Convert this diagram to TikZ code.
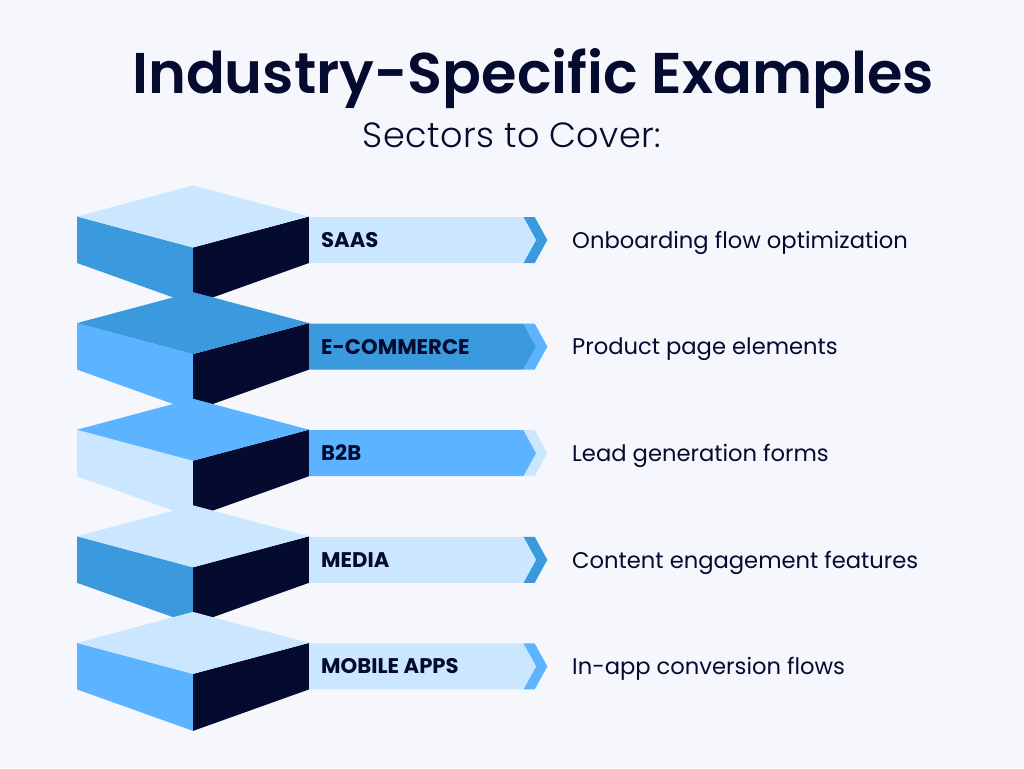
\documentclass[tikz,border=0pt]{standalone}
\usepackage{fontspec}
\setmainfont{Poppins}
\newfontfamily\titlefont[UprightFont={* SemiBold},BoldFont={* SemiBold}]{Poppins}
\newfontfamily\subfont[UprightFont={* Light},BoldFont={* Light},LetterSpace=1.2]{Poppins}
\newfontfamily\labfont[UprightFont={* Bold},BoldFont={* Bold}]{Poppins}
\definecolor{bgc}{HTML}{F5F7FD}
\definecolor{lightc}{HTML}{CAE7FF}
\definecolor{midc}{HTML}{3A9ADD}
\definecolor{skyc}{HTML}{5CB3FF}
\definecolor{navyc}{HTML}{040B2E}
\tikzset{
  titletext/.style={anchor=base,inner sep=0,text=navyc,font=\titlefont\fontsize{57.4}{60}\selectfont},
  subtext/.style={anchor=base,inner sep=0,text=navyc,font=\subfont\fontsize{35}{35}\selectfont},
  bartext/.style={anchor=base west,inner sep=0,text=navyc,font=\labfont\fontsize{21.2}{21}\selectfont},
  desctext/.style={anchor=base west,inner sep=0,text=navyc,font=\fontsize{22.65}{23}\selectfont},
}
% #1 y of side corners, #2 top, #3 left face, #4 bar, #5 chevron, #6 name, #7 label, #8 description
\newcommand{\tier}[8]{
  \begin{scope}[shift={(0,#1)}]
    \fill[#3] (77,0) -- (193,31) -- (193,88) -- (77,46.5) -- cycle;
    \fill[navyc] (309,0) -- (193,31) -- (193,88) -- (309,46.5) -- cycle;
    \fill[#2] (77,0) -- (193,-31) -- (309,0) -- (193,31) -- cycle;
    \fill[#5] (523.3,0.5) -- (534.7,0.5) -- (547.3,23.5) -- (534.7,46.5) -- (523.3,46.5) -- (536,23.5) -- cycle;
    \fill[#4] (309,0.5) -- (523.3,0.5) -- (536,23.5) -- (523.3,46.5) -- (309,46.5) -- cycle;
    \node[bartext] (lab#6) at (321,31) {#7};
    \node[desctext] (desc#6) at (572,31.8) {#8};
  \end{scope}
}
\begin{document}
\begin{tikzpicture}[x=1pt,y=-1pt]
\useasboundingbox (0,0) rectangle (1024,768);
\fill[bgc] (0,0) rectangle (1024,768);
\node[titletext] (title) at (533,93.5) {Industry-Specific Examples};
\node[subtext] (subtitle) at (512,147) {Sectors to Cover:};
\tier{216.5}{lightc}{midc}{lightc}{midc}{a}{SAAS}{Onboarding flow optimization}
\tier{323.1}{midc}{skyc}{midc}{skyc}{b}{E-COMMERCE}{Product page elements}
\tier{429.7}{skyc}{lightc}{skyc}{lightc}{c}{B2B}{Lead generation forms}
\tier{536.3}{lightc}{midc}{lightc}{midc}{d}{MEDIA}{Content engagement features}
\tier{642.9}{lightc}{skyc}{lightc}{skyc}{e}{MOBILE APPS}{In-app conversion flows}
\end{tikzpicture}
\end{document}
